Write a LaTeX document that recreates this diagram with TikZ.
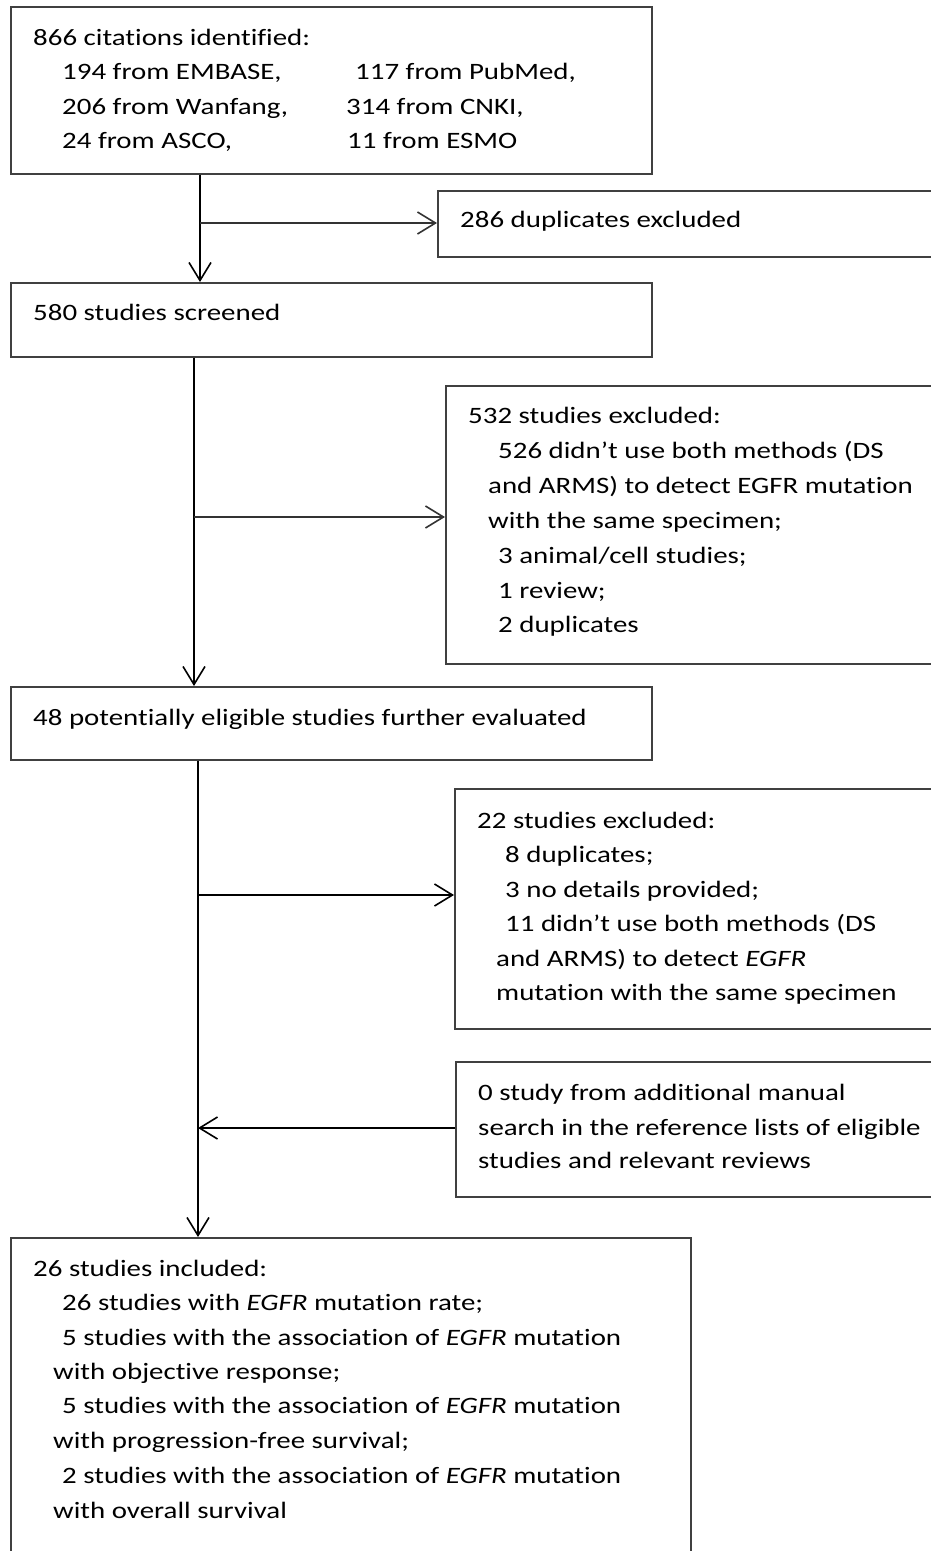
\documentclass[tikz,border=0pt]{standalone}
\usepackage{fontspec}
\setmainfont{Carlito}[FakeStretch=1.23,Ligatures=NoCommon]
\usetikzlibrary{arrows.meta}
\begin{document}
\begin{tikzpicture}[x=1pt,y=-1pt,
  box/.style={draw=black!75,line width=1.6pt,rectangle,inner sep=0pt,anchor=north west},
  txt/.style={anchor=base west,inner sep=0pt,text=black,font=\fontsize{23.5}{34}\selectfont},
  arr/.style={draw=black,line width=1.6pt,-{Straight Barb[length=18pt,width=22pt,line width=1.6pt]}},
  lin/.style={draw=black!85,line width=1.6pt}]
\useasboundingbox (0,0) rectangle (931,1551);
\clip (0,0) rectangle (931,1551);
% boxes
\node[box,minimum width=641pt,minimum height=167pt] (b1) at (10,6) {};
\node[box,minimum width=510pt,minimum height=66pt] (b2) at (437,190) {};
\node[box,minimum width=641pt,minimum height=74pt] (b3) at (10,282) {};
\node[box,minimum width=500pt,minimum height=278pt] (b4) at (445,385) {};
\node[box,minimum width=641pt,minimum height=73pt] (b5) at (10,686) {};
\node[box,minimum width=500pt,minimum height=240pt] (b6) at (454,788) {};
\node[box,minimum width=500pt,minimum height=135pt] (b7) at (455,1061) {};
\node[box,minimum width=680pt,minimum height=340pt] (b8) at (10,1237) {};
% texts box 1
\node[txt] (t11) at (33,45) {866 citations identified:};
\node[txt] (t12) at (62,79) {194 from EMBASE,};
\node[txt] (t13) at (355,79) {117 from PubMed,};
\node[txt] (t14) at (62,114) {206 from Wanfang,};
\node[txt] (t15) at (346,114) {314 from CNKI,};
\node[txt] (t16) at (62,148) {24 from ASCO,};
\node[txt] (t17) at (347,148) {11 from ESMO};
% box 2
\node[txt] (t21) at (460,227) {286 duplicates excluded};
% box 3
\node[txt] (t31) at (33,320) {580 studies screened};
% box 4
\node[txt] (t41) at (468,423) {532 studies excluded:};
\node[txt] (t42) at (498,458) {526 didn’t use both methods (DS};
\node[txt] (t43) at (488,493) {and ARMS) to detect EGFR mutation};
\node[txt] (t44) at (488,528) {with the same specimen;};
\node[txt] (t45) at (498,563) {3 animal/cell studies;};
\node[txt] (t46) at (498,598) {1 review;};
\node[txt] (t47) at (498,632) {2 duplicates};
% box 5
\node[txt] (t51) at (33,725) {48 potentially eligible studies further evaluated};
% box 6
\node[txt] (t61) at (477,828) {22 studies excluded:};
\node[txt] (t62) at (505,862) {8 duplicates;};
\node[txt] (t63) at (505,897) {3 no details provided;};
\node[txt] (t64) at (505,931) {11 didn’t use both methods (DS};
\node[txt] (t65) at (496,966) {and ARMS) to detect \textit{EGFR}};
\node[txt] (t66) at (496,1000) {mutation with the same specimen};
% box 7
\node[txt] (t71) at (478,1100) {0 study from additional manual};
\node[txt] (t72) at (478,1135) {search in the reference lists of eligible};
\node[txt] (t73) at (478,1168) {studies and relevant reviews};
% box 8
\node[txt] (t81) at (33,1276) {26 studies included:};
\node[txt] (t82) at (62,1310) {26 studies with \textit{EGFR} mutation rate;};
\node[txt] (t83) at (62,1345) {5 studies with the association of \textit{EGFR} mutation};
\node[txt] (t84) at (53,1379) {with objective response;};
\node[txt] (t85) at (62,1413) {5 studies with the association of \textit{EGFR} mutation};
\node[txt] (t86) at (53,1448) {with progression-free survival;};
\node[txt] (t87) at (62,1483) {2 studies with the association of \textit{EGFR} mutation};
\node[txt] (t88) at (53,1518) {with overall survival};
% connectors
\coordinate (j1) at (200,223);
\coordinate (j2) at (194,517);
\coordinate (j3) at (198,895);
\coordinate (j4) at (198,1128);
\draw[arr] (b1.south -| j1) -- (b3.north -| j1);
\draw[arr,draw=black!80] (j1) -- (b2.west |- j1);
\draw[arr] (b3.south -| j2) -- (b5.north -| j2);
\draw[arr,draw=black!80] (j2) -- (b4.west |- j2);
\draw[arr] (b5.south -| j3) -- (b8.north -| j3);
\draw[arr] (j3) -- (b6.west |- j3);
\draw[arr] (b7.west |- j4) -- (j4);
\end{tikzpicture}
\end{document}
